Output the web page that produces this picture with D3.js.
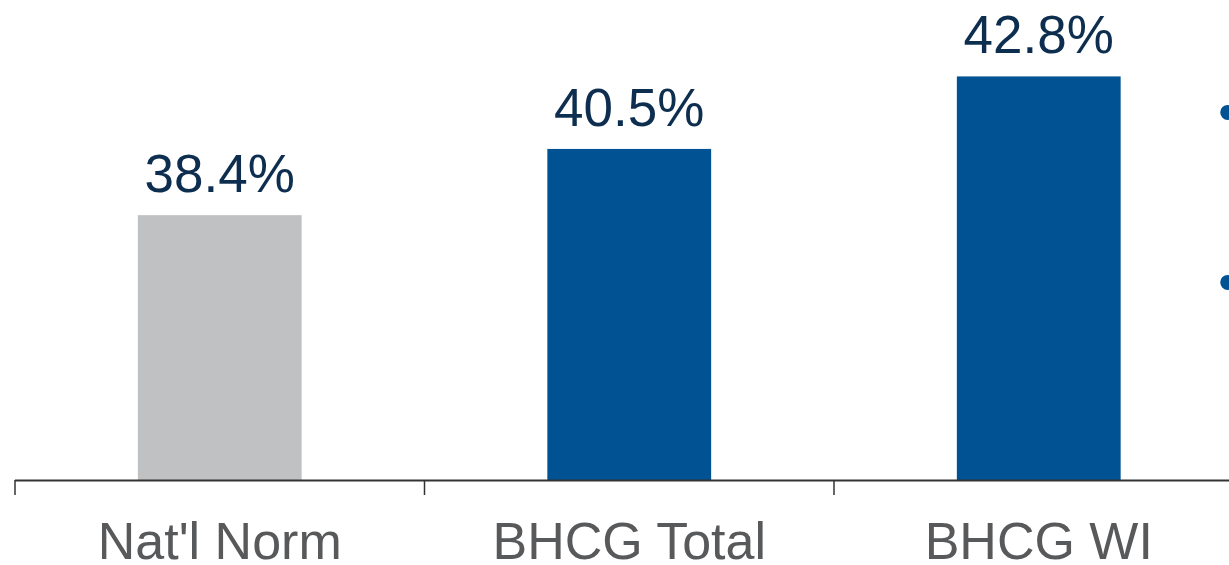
<!DOCTYPE html>
<html>
<head>
<meta charset="utf-8">
<script src="https://cdn.jsdelivr.net/npm/d3@7"></script>
<style>
  html, body { margin: 0; padding: 0; background: #fff; }
  svg { display: block; }
  text { font-family: "Liberation Sans", Arial, sans-serif; }
</style>
</head>
<body>
<svg id="chart" width="1229" height="565"></svg>
<script>
const categories = ["Nat'l Norm", "BHCG Total", "BHCG WI"];
const values = [38.4, 40.5, 42.8];
const barColors = ["#c0c1c3", "#005293", "#005293"];
const valueLabels = ["38.4%", "40.5%", "42.8%"];

const svg = d3.select("#chart");
const W = 1229, H = 565;
const baseY = 480;

const x = d3.scaleBand()
  .domain(categories)
  .range([15, 1243.5])
  .paddingInner(0.6)
  .paddingOuter(0.3);

const y = d3.scaleLinear()
  .domain([30, 45])
  .range([baseY, baseY - 15 * 31.53]);

// bars
svg.selectAll("rect.bar")
  .data(categories)
  .enter().append("rect")
  .attr("class", "bar")
  .attr("x", d => x(d))
  .attr("width", x.bandwidth())
  .attr("y", (d, i) => y(values[i]))
  .attr("height", (d, i) => y(30) - y(values[i]))
  .attr("fill", (d, i) => barColors[i]);

// value labels
svg.selectAll("text.val")
  .data(categories)
  .enter().append("text")
  .attr("class", "val")
  .attr("x", d => x(d) + x.bandwidth() / 2)
  .attr("y", (d, i) => y(values[i]) - 23)
  .attr("text-anchor", "middle")
  .attr("font-size", 53)
  .attr("fill", "#0e2e50")
  .text((d, i) => valueLabels[i]);

// axis line and boundary ticks
const r0 = x.range()[0];
const step = x.step();
svg.append("line")
  .attr("x1", r0).attr("x2", W)
  .attr("y1", baseY + 0.5).attr("y2", baseY + 0.5)
  .attr("stroke", "#333333").attr("stroke-width", 2);
svg.selectAll("line.tick")
  .data(d3.range(categories.length + 1))
  .enter().append("line")
  .attr("class", "tick")
  .attr("x1", i => r0 + i * step).attr("x2", i => r0 + i * step)
  .attr("y1", baseY).attr("y2", baseY + 15)
  .attr("stroke", "#333333").attr("stroke-width", 1.5);

// category labels
svg.selectAll("text.cat")
  .data(categories)
  .enter().append("text")
  .attr("class", "cat")
  .attr("x", d => x(d) + x.bandwidth() / 2)
  .attr("y", 559)
  .attr("text-anchor", "middle")
  .attr("font-size", 52)
  .attr("fill", "#58595b")
  .text(d => d);

// bullet markers from adjacent text (clipped at right edge)
svg.selectAll("text.bullet")
  .data([113, 283])
  .enter().append("text")
  .attr("class", "bullet")
  .attr("x", 1218)
  .attr("y", d => d + 18)
  .attr("font-size", 56)
  .attr("fill", "#005293")
  .text("•");
</script>
</body>
</html>
